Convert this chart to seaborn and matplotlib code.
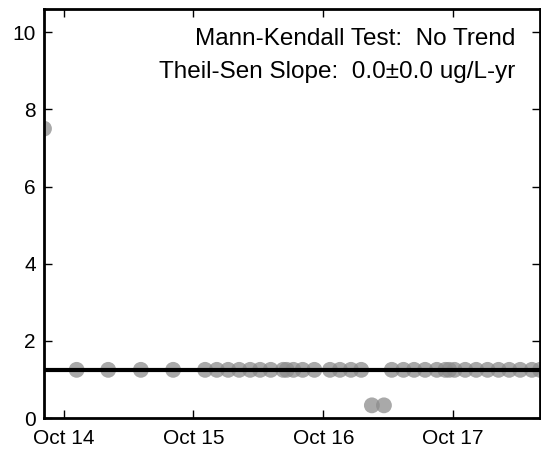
import pandas as pd
import matplotlib
matplotlib.use("Agg")
import matplotlib.pyplot as plt
import matplotlib.dates as mdates
import seaborn as sns

# サンプル日付と濃度
sample_dates = [
    "2014-08-06", "2014-11-06", "2015-02-03", "2015-05-06", "2015-08-05",
    "2015-11-03", "2015-12-06", "2016-01-07", "2016-02-07", "2016-03-09",
    "2016-04-06", "2016-05-06", "2016-06-10", "2016-06-20", "2016-07-09",
    "2016-08-04", "2016-09-06", "2016-10-20", "2016-11-17", "2016-12-18",
    "2017-01-16", "2017-02-15", "2017-03-21", "2017-04-12", "2017-05-15",
    "2017-06-14", "2017-07-15", "2017-08-17", "2017-09-10", "2017-09-21",
    "2017-10-06", "2017-11-05", "2017-12-06", "2018-01-07", "2018-02-07",
    "2018-03-09", "2018-04-09", "2018-05-12", "2018-06-04",
]
concentrations = [7.5] + [1.25] * 20 + [0.33, 0.33] + [1.25] * 16
trend_level = 1.25
y_ticks = [0, 2, 4, 6, 8, 10]
annotation_lines = ["Mann-Kendall Test:  No Trend", "Theil-Sen Slope:  0.0\u00b10.0 ug/L-yr"]

df = pd.DataFrame({"date": pd.to_datetime(sample_dates), "conc": concentrations})

sns.set_style("ticks")
plt.rcParams["font.family"] = ["Liberation Sans", "DejaVu Sans"]
plt.rcParams["text.color"] = "black"

fig = plt.figure(figsize=(5.41, 4.51), dpi=100)
ax = fig.add_axes([0.0813, 0.073, 0.917, 0.907])

sns.scatterplot(data=df, x="date", y="conc", ax=ax, color="#8c8c8c", alpha=0.75,
                s=130, edgecolor="none", legend=False, zorder=2, clip_on=True)
ax.axhline(trend_level, color="black", lw=3, zorder=3)

ax.set_xlim(df["date"].min(), df["date"].max())
ax.set_ylim(0, 10.6)
ax.set_yticks(y_ticks)
ax.xaxis.set_major_locator(mdates.MonthLocator(bymonth=10, bymonthday=1))
ax.xaxis.set_major_formatter(mdates.DateFormatter("%b %y"))
ax.set_xlabel("")
ax.set_ylabel("")
ax.tick_params(direction="in", length=6, width=1, top=True, right=True,
               labelsize=15, colors="black")
ax.tick_params(axis="x", pad=8)
ax.tick_params(axis="y", pad=6)
for sp in ax.spines.values():
    sp.set_linewidth(2)
    sp.set_color("black")

ax.text(0.95, 0.953, annotation_lines[0], transform=ax.transAxes, ha="right", va="top",
        fontsize=17.5, color="black")
ax.text(0.95, 0.873, annotation_lines[1], transform=ax.transAxes, ha="right", va="top",
        fontsize=17.5, color="black")

fig.savefig("out.png", dpi=100)
